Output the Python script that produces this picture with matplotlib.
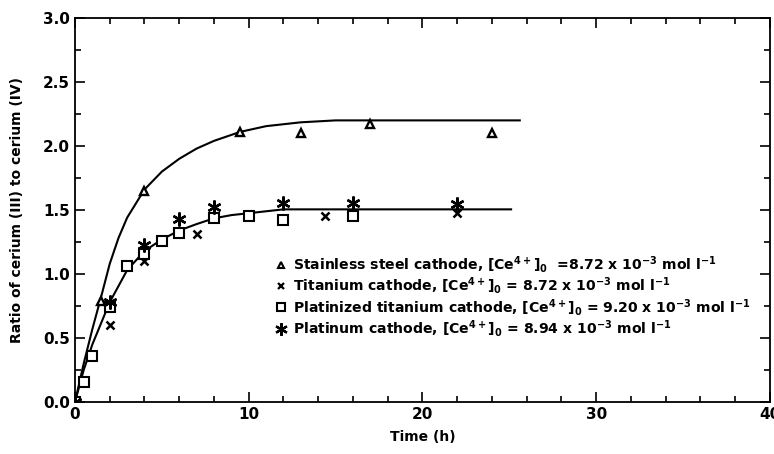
import matplotlib
matplotlib.use("Agg")
import matplotlib.pyplot as plt
from matplotlib.lines import Line2D
from matplotlib.ticker import MultipleLocator, FormatStrFormatter

plt.rcParams['font.family'] = ['DejaVu Sans']
plt.rcParams['font.weight'] = 'bold'

# Measured points: time (h) and ratio Ce(III)/Ce(IV)
ss_t = [0, 1.5, 4, 9.5, 13, 17, 24]
ss_r = [0, 0.79, 1.65, 2.11, 2.10, 2.17, 2.10]

ti_t = [0, 2, 4, 7, 14.4, 22]
ti_r = [0, 0.60, 1.10, 1.31, 1.45, 1.48]

pti_t = [0, 0.5, 1, 2, 3, 4, 5, 6, 8, 10, 12, 16]
pti_r = [0, 0.16, 0.36, 0.74, 1.06, 1.16, 1.26, 1.32, 1.435, 1.45, 1.42, 1.45]

pt_t = [0, 2, 4, 6, 8, 12, 16, 22]
pt_r = [0, 0.78, 1.23, 1.43, 1.52, 1.555, 1.555, 1.55]

# Smooth trend curves drawn through the data
ss_fit_t = [0, 0.5, 1, 1.5, 2, 2.5, 3, 4, 5, 6, 7, 8, 9.5, 11, 13, 15, 25.6]
ss_fit_r = [0, 0.30, 0.57, 0.82, 1.08, 1.28, 1.44, 1.66, 1.80, 1.90, 1.98, 2.04,
            2.11, 2.155, 2.185, 2.20, 2.20]

low_fit_t = [0, 0.5, 1, 2, 3, 4, 5, 6, 7, 8, 9, 10, 11, 12, 25.1]
low_fit_r = [0, 0.25, 0.45, 0.78, 1.03, 1.18, 1.27, 1.34, 1.39, 1.435, 1.46,
             1.475, 1.49, 1.505, 1.505]

labels = [
    r"Stainless steel cathode, [Ce$\mathregular{^{4+}}$]$\mathregular{_0}$  =8.72 x 10$\mathregular{^{-3}}$ mol l$\mathregular{^{-1}}$",
    r"Titanium cathode, [Ce$\mathregular{^{4+}}$]$\mathregular{_0}$ = 8.72 x 10$\mathregular{^{-3}}$ mol l$\mathregular{^{-1}}$",
    r"Platinized titanium cathode, [Ce$\mathregular{^{4+}}$]$\mathregular{_0}$ = 9.20 x 10$\mathregular{^{-3}}$ mol l$\mathregular{^{-1}}$",
    r"Platinum cathode, [Ce$\mathregular{^{4+}}$]$\mathregular{_0}$ = 8.94 x 10$\mathregular{^{-3}}$ mol l$\mathregular{^{-1}}$",
]

fig = plt.figure(figsize=(7.74, 4.54), dpi=100)
ax = fig.add_axes([0.0969, 0.1145, 0.8979, 0.8459])

ax.plot(ss_fit_t, ss_fit_r, color='black', lw=1.5)
ax.plot(low_fit_t, low_fit_r, color='black', lw=1.5)

ax.plot(ss_t, ss_r, ls='none', marker='^', ms=6, mfc='white', mec='black', mew=1.7)
ax.plot(ti_t, ti_r, ls='none', marker='x', ms=6, mec='black', mew=1.8)
ax.plot(pti_t, pti_r, ls='none', marker='s', ms=6.5, mfc='white', mec='black', mew=1.5)
ax.plot(pt_t, pt_r, ls='none', marker=(6, 2, 0), ms=10, mec='black', mew=1.7)

handles = [
    Line2D([], [], ls='none', marker='^', ms=5, mfc='white', mec='black', mew=1.5),
    Line2D([], [], ls='none', marker='x', ms=5, mec='black', mew=1.6),
    Line2D([], [], ls='none', marker='s', ms=6, mfc='white', mec='black', mew=1.5),
    Line2D([], [], ls='none', marker=(6, 2, 0), ms=9, mec='black', mew=1.6),
]
ax.legend(handles, labels, loc='upper left', bbox_to_anchor=(0.28, 0.40),
          frameon=False, handlelength=0.8, handletextpad=0.5, labelspacing=0.02,
          borderaxespad=0, prop={'size': 10.1, 'weight': 'bold'})

ax.set_xlim(0, 40)
ax.set_ylim(0, 3.0)
ax.xaxis.set_major_locator(MultipleLocator(10))
ax.xaxis.set_minor_locator(MultipleLocator(2))
ax.yaxis.set_major_locator(MultipleLocator(0.5))
ax.yaxis.set_minor_locator(MultipleLocator(0.25))
ax.yaxis.set_major_formatter(FormatStrFormatter('%.1f'))
ax.tick_params(which='both', direction='in', top=True, right=True, width=1.2,
               labelsize=11)
ax.tick_params(which='major', length=7)
ax.tick_params(which='minor', length=4)
for s in ax.spines.values():
    s.set_linewidth(1.3)

ax.set_xlabel("Time (h)", fontsize=10, fontweight='bold', labelpad=6)
ax.set_ylabel("Ratio of cerium (III) to cerium (IV)", fontsize=10,
              fontweight='bold', labelpad=14)

fig.savefig("out.png", dpi=100)
